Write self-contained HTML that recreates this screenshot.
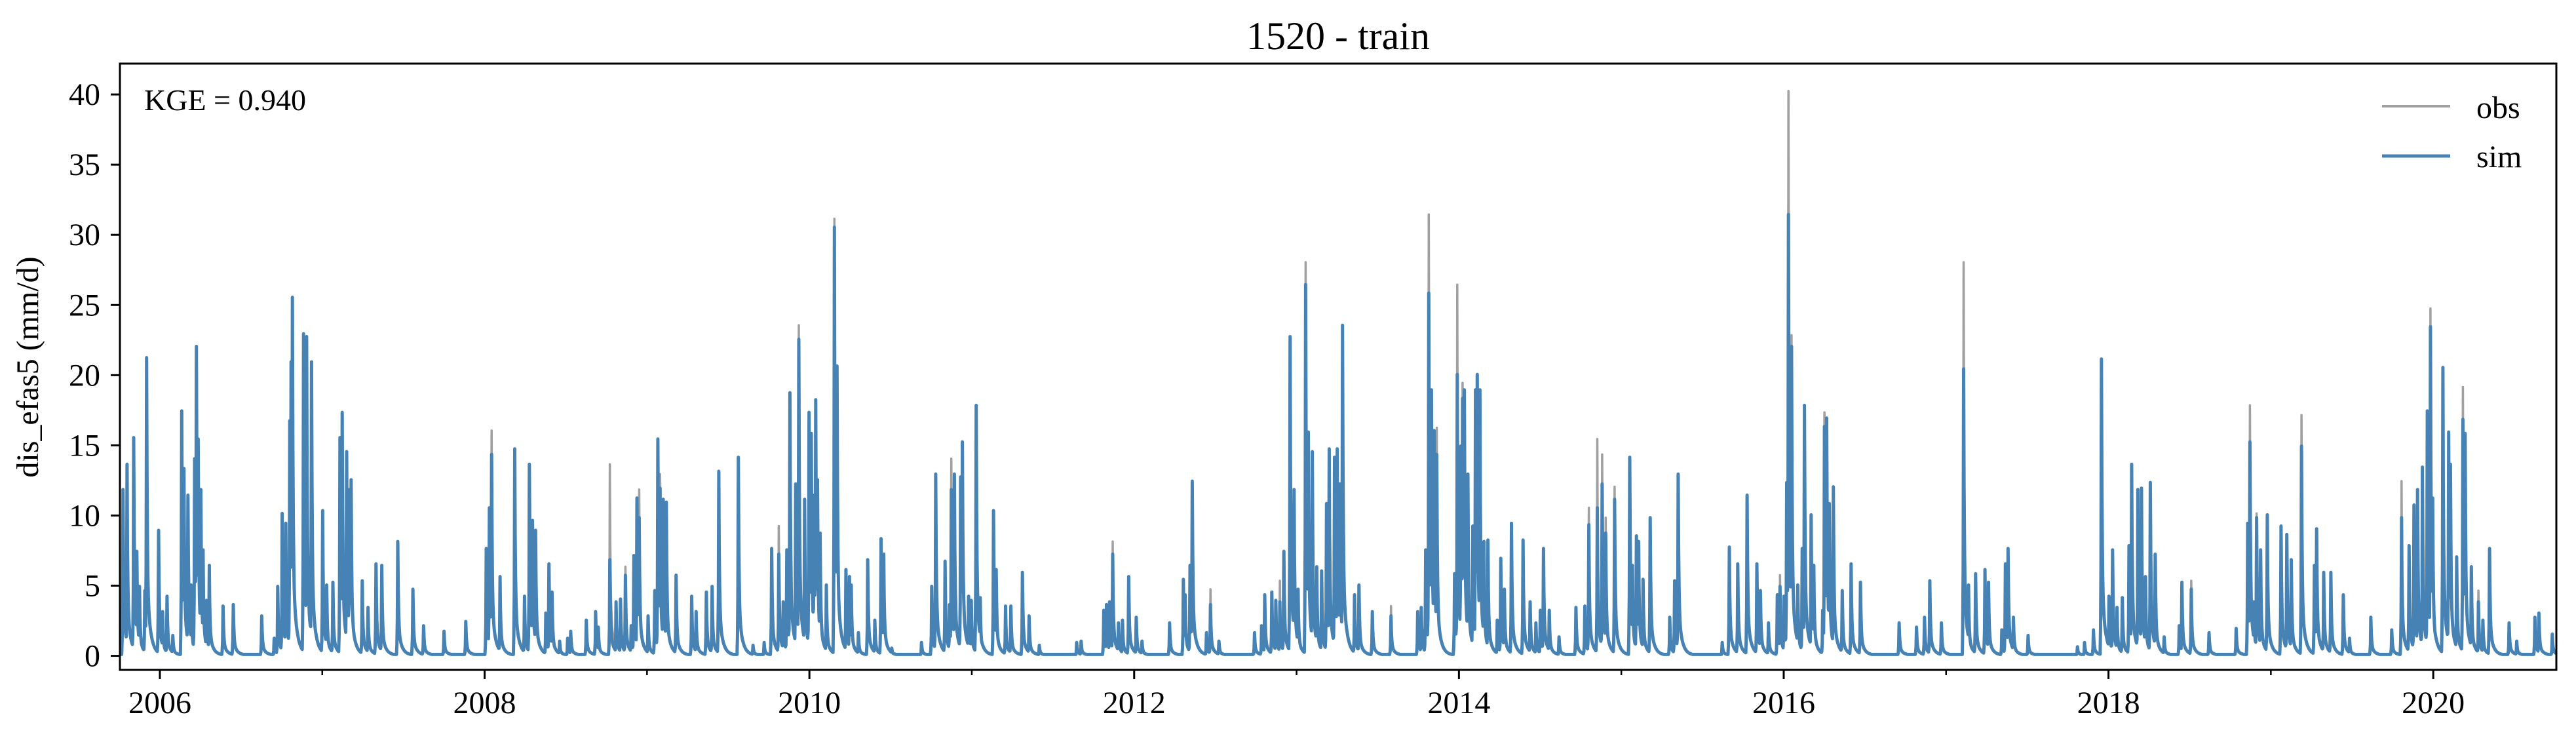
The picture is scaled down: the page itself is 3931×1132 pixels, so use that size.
<!DOCTYPE html>
<html><head><meta charset="utf-8">
<style>
html,body{margin:0;padding:0;background:#fff;}
svg{display:block;}
text{font-family:"Liberation Serif","DejaVu Serif",serif;fill:#000;}
</style></head>
<body>
<svg id="chart" width="3931" height="1132" viewBox="0 0 3931 1132" xmlns="http://www.w3.org/2000/svg">
<rect x="0" y="0" width="3931" height="1132" fill="#fff"/>
<defs><clipPath id="plotclip"><rect x="183" y="97" width="3718" height="925"/></clipPath></defs>
<text x="2042" y="75" text-anchor="middle" font-size="60">1520 - train</text>
<g id="series" clip-path="url(#plotclip)"></g>
<g id="axes"></g>
<text x="220" y="168" font-size="46">KGE = 0.940</text>
<g>
  <line x1="3635" y1="162" x2="3739" y2="162" stroke="#a0a0a0" stroke-width="4"/>
  <text x="3779" y="180" font-size="48">obs</text>
  <line x1="3635" y1="238" x2="3739" y2="238" stroke="#4682b4" stroke-width="5"/>
  <text x="3779" y="255" font-size="48">sim</text>
</g>
<text transform="translate(58,560) rotate(-90)" text-anchor="middle" font-size="48">dis_efas5 (mm/d)</text>
</svg>
<script>
// ---- data (decimal year of each flow peak, simulated peak value) ----
const eventDates = [2005.773,2005.799,2005.839,2005.858,2005.874,2005.906,2005.918,2005.993,2006.017,2006.044,2006.081,2006.134,2006.147,2006.174,2006.193,2006.214,2006.225,2006.236,2006.252,2006.265,2006.289,2006.305,2006.389,2006.453,2006.628,2006.703,2006.727,2006.754,2006.775,2006.799,2006.807,2006.815,2006.884,2006.903,2006.914,2006.935,2007.002,2007.026,2007.066,2007.110,2007.122,2007.150,2007.166,2007.179,2007.246,2007.283,2007.331,2007.366,2007.465,2007.557,2007.624,2007.749,2007.884,2008.009,2008.028,2008.044,2008.096,2008.184,2008.246,
2008.275,2008.296,2008.315,2008.376,2008.396,2008.416,2008.463,2008.511,2008.530,2008.626,2008.684,2008.700,2008.770,2008.810,2008.838,2008.866,2008.902,2008.918,2008.937,2008.953,2009.006,2009.049,2009.067,2009.081,2009.099,2009.118,2009.178,2009.274,2009.301,2009.365,2009.402,2009.442,2009.561,2009.652,2009.721,2009.769,2009.812,2009.840,2009.860,2009.880,2009.915,2009.935,2009.971,2009.998,2010.011,2010.027,2010.040,2010.051,2010.067,2010.104,2010.155,2010.171,2010.224,2010.247,2010.259,2010.302,2010.359,2010.402,2010.442,2010.458,2010.506,2010.689,2010.753,
2010.777,2010.835,2010.862,2010.873,2010.894,2010.930,2010.942,2010.981,2010.997,2011.026,2011.053,2011.135,2011.149,2011.208,2011.240,2011.312,2011.352,2011.415,2011.647,2011.672,2011.814,2011.830,2011.848,2011.867,2011.902,2011.928,2011.966,2012.014,2012.047,2012.218,2012.303,2012.314,2012.343,2012.359,2012.446,2012.469,2012.521,2012.740,2012.785,2012.804,2012.848,2012.872,2012.896,2012.923,2012.960,2012.984,2013.008,2013.056,2013.072,2013.096,2013.123,2013.155,2013.184,2013.200,2013.235,2013.251,
2013.268,2013.284,2013.356,2013.384,2013.467,2013.582,2013.747,2013.767,2013.795,2013.815,2013.830,2013.847,2013.863,2013.973,2013.989,2014.010,2014.023,2014.034,2014.055,2014.085,2014.101,2014.114,2014.130,2014.154,2014.178,2014.237,2014.257,2014.281,2014.324,2014.396,2014.438,2014.473,2014.501,2014.521,2014.556,2014.616,2014.720,2014.776,2014.801,2014.851,2014.881,2014.904,2014.959,2015.052,2015.068,2015.092,2015.106,2015.135,2015.178,2015.299,2015.327,2015.350,2015.622,2015.665,2015.717,
2015.775,2015.834,2015.858,2015.906,2015.961,2015.977,2016.001,2016.017,2016.030,2016.049,2016.086,2016.113,2016.129,2016.169,2016.185,2016.241,2016.252,2016.265,2016.281,2016.305,2016.360,2016.416,2016.472,2016.711,2016.818,2016.868,2016.901,2016.970,2017.107,2017.138,2017.182,2017.238,2017.262,2017.342,2017.366,2017.382,2017.414,2017.506,2017.808,2017.852,2017.908,2017.956,2018.004,2018.025,2018.052,2018.084,2018.127,2018.143,2018.180,2018.203,2018.227,2018.259,
2018.288,2018.344,2018.436,2018.452,2018.511,2018.618,2018.787,2018.858,2018.870,2018.897,2018.913,2018.937,2018.977,2019.062,2019.097,2019.126,2019.190,2019.269,2019.282,2019.325,2019.368,2019.445,2019.485,2019.617,2019.745,2019.804,2019.852,2019.880,2019.904,2019.932,2019.964,2019.983,2019.995,2020.059,2020.094,2020.107,2020.144,2020.182,2020.195,2020.235,2020.278,2020.307,2020.347,2020.466,2020.514,2020.626,2020.650,2020.734];
const simPeaks = [11.8,13.6,15.5,7.4,4.9,4.6,21.2,8.9,3.1,4.2,1.4,17.4,13.3,11.4,5,14,22,15.4,11.8,7.5,3.9,6.4,3.5,3.6,2.8,1.2,4.9,10.1,9.4,16.7,20.9,25.5,22.9,22.7,7,20.9,10.3,5,5.2,15.5,17.3,14.5,11.8,12.5,5.3,3.4,6.5,6.4,8.1,4.7,2.1,1.7,2.4,7.6,10.5,14.3,5.6,14.7,4.2,
13.6,9.6,8.9,3,6.5,4.5,1,1.2,1.7,2.5,3.1,2,6.8,3.8,4,5.7,2.1,7.1,11.2,9.8,2.8,4.6,15.4,11.9,11.1,10.9,5.7,4.2,3.1,4.5,4.9,13.1,14.1,0.7,0.9,7.6,7.2,3.8,7.5,18.7,12.2,22.5,11.1,17.3,15.8,11.4,18.2,12.5,8.7,5,30.5,20.6,6.1,5.6,5,1.6,6.8,2.5,8.3,7.2,0.5,0.9,4.9,
12.9,6.7,3.6,11.8,12.9,12.7,15.2,4.2,3.9,17.8,4.1,10.3,6.1,3.5,3.5,5.9,2.8,0.7,0.9,1,3.2,3.6,3.8,7.2,2.3,2.5,5.6,2.7,1,2.3,5.4,4.3,6.4,12.4,1.6,3.6,1,1.6,2.1,4.3,4.5,3.9,3.8,7.4,22.7,11.8,4.7,26.4,15.9,14.5,6.3,6,10.8,14.7,14.1,14.7,
12.2,23.5,4.3,5,3.1,2.8,3.1,3.4,7.5,25.8,18.9,16,14.3,5.8,20,14.9,18.3,18.9,12.9,9.2,18.9,20,18.9,8.1,8.2,2.5,6.9,4.7,9.4,8.2,3.8,2.3,3.2,7.6,3.2,1.3,3.4,3.5,9.3,10.5,12.2,8.7,11.1,14.1,6.4,8.5,8.1,5.4,9.8,2.7,5.3,12.9,0.9,7.7,6.5,
11.4,6.5,4.6,2.3,4.3,4.9,4.2,12.3,31.4,22,5,7.6,17.8,10,6.4,3.2,16.3,16.9,10.8,12,4.6,6.5,5.2,2.3,2,2.7,5.3,2.3,20.4,5,5.8,6.1,5.2,1.8,6.5,7.6,2.7,1.4,0.6,0.9,1.8,21.1,4.2,7.5,3.4,4.1,7.8,13.6,11.8,11.9,5.6,12.3,
7.2,1.3,2.1,5.2,4.7,1.6,1.9,9.4,15.2,3.8,9.8,7.5,10,9.2,8.6,6.8,14.9,6.4,9,5.9,5.9,4.3,1.2,2.7,1.8,9.8,7.8,10.7,11.8,13.4,17.4,23.4,11.2,20.5,15.9,13.6,7,16.8,15.8,6.3,3.8,2.5,7.6,2.3,1,2.7,3,1.5];
// observed peaks that differ visibly from the simulation
const obsDates = [2008.044,2008.770,2008.866,2008.953,2009.081,2009.812,2009.935,2010.155,2010.873,2011.867,2012.469,2012.896,2013.056,2013.582,2013.815,2013.863,2013.989,2014.023,2014.801,2014.851,2014.881,2014.904,2014.959,2015.977,2016.030,2016.049,2016.252,2017.107,2018.511,2018.870,2018.913,2019.190,2019.804,2019.983,2020.182,2020.278];
const obsValues = [16,13.6,6.3,11.8,12.9,9.2,23.5,31.1,14,8.1,4.7,5.3,28,3.5,31.4,16.2,26.4,19.4,10.5,15.4,14.3,9.8,12,5.7,40.2,22.8,17.3,28,5.3,17.8,10.1,17.1,12.4,24.7,19.1,4.6];
const yTicks = [0,5,10,15,20,25,30,35,40];
const xTickYears = [2006,2008,2010,2012,2014,2016,2018,2020];
const xMinorYears = [2007,2009,2011,2013,2015,2017,2019];

// ---- axes ----
const X0=183,X1=3901,Y0=97,Y1=1022;
const T0=2005.754,T1=2020.758, V0=-1.0, V1=42.2;
const xs=t=>X0+(t-T0)/(T1-T0)*(X1-X0);
const ys=v=>Y1-(v-V0)/(V1-V0)*(Y1-Y0);
const NS='http://www.w3.org/2000/svg';
function mk(tag,attrs,parent){const e=document.createElementNS(NS,tag);for(const k in attrs)e.setAttribute(k,attrs[k]);parent.appendChild(e);return e;}

// ---- build daily series ----
const nDays=Math.round((T1-T0)*365.25);
const dayOf=t=>Math.round((t-T0)*365.25);
function buildSeries(peaks){
  const vals=new Float64Array(nDays+1).fill(0.1);
  for(let i=0;i<eventDates.length;i++){
    const d0=dayOf(eventDates[i]);const p=peaks[i];
    for(let d=Math.max(0,d0-2);d<=Math.min(nDays,d0+90);d++){
      const k=d-d0;let v;
      if(k<0)v=p*(k===-1?0.3:0.1);
      else v=p*(0.75*Math.exp(-k/1.4)+0.25*Math.exp(-k/8))+0.05;
      if(v>vals[d])vals[d]=v;
    }
  }
  return vals;
}
const simSeries=buildSeries(simPeaks);
const obsPeaks=simPeaks.slice();
for(let j=0;j<obsDates.length;j++){
  let best=0,bd=1e9;
  for(let i=0;i<eventDates.length;i++){const dd=Math.abs(eventDates[i]-obsDates[j]);if(dd<bd){bd=dd;best=i;}}
  obsPeaks[best]=obsValues[j];
}
const obsSeries=buildSeries(obsPeaks);
function pathOf(vals){
  let s='';
  for(let d=0;d<=nDays;d++){const t=T0+d/365.25;s+=(d?'L':'M')+xs(t).toFixed(1)+' '+ys(vals[d]).toFixed(1);}
  return s;
}
const sg=document.getElementById('series');
const po=mk('path',{d:pathOf(obsSeries),fill:'none',stroke:'#a0a0a0','stroke-width':3.5,'stroke-linejoin':'round'},sg);


const ps=mk('path',{d:pathOf(simSeries),fill:'none',stroke:'#4682b4','stroke-width':5,'stroke-linejoin':'round'},sg);



// ---- axes drawing ----
const ax=document.getElementById('axes');
const fr=mk('rect',{x:X0,y:Y0,width:X1-X0,height:Y1-Y0,fill:'none',stroke:'#000','stroke-width':3},ax);


yTicks.forEach(v=>{
  const y=ys(v);
  const tl=mk('line',{x1:X0-14,y1:y,x2:X0,y2:y,stroke:'#000','stroke-width':3},ax);
  
  
  const tx=mk('text',{x:X0-30,y:y+16,'text-anchor':'end','font-size':48},ax);
  tx.textContent=v;
  
  
});
xTickYears.forEach(yr=>{
  const x=xs(yr);
  const tl=mk('line',{x1:x,y1:Y1,x2:x,y2:Y1+14,stroke:'#000','stroke-width':3},ax);
  
  
  const tx=mk('text',{x:x,y:1088,'text-anchor':'middle','font-size':48},ax);
  tx.textContent=yr;
  
  
});
xMinorYears.forEach(yr=>{
  const x=xs(yr);
  const tl=mk('line',{x1:x,y1:Y1,x2:x,y2:Y1+8,stroke:'#000','stroke-width':2.5},ax);
  
  
});
</script>
</body></html>
